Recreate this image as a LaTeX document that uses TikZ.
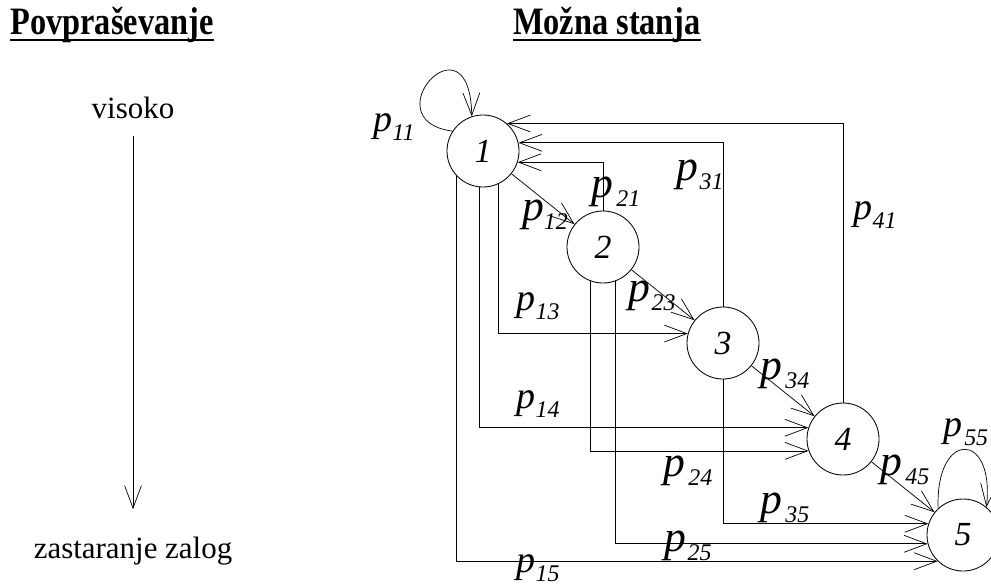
\documentclass[tikz,border=0pt]{standalone}
\usepackage{fontspec}
\setmainfont{Liberation Serif}
\usepackage{graphicx}
\usepackage{xcolor}
\usepackage{tikz}
\usetikzlibrary{arrows.meta,calc,positioning}

% label p_ij with optional gap before the index
\newcommand{\prob}[2][0pt]{\textit{p}\kern#1\raisebox{-6pt}{\fontsize{17}{17}\selectfont\textit{#2}}}
% taller heading text
\newcommand{\tallhead}[1]{\scalebox{1}[1.2]{#1}}

\begin{document}
\begin{tikzpicture}[x=0.025cm,y=-0.025cm,
  state/.style={circle,draw,line width=0.6pt,minimum size=1.8cm,inner sep=0pt,
    font=\fontsize{24}{24}\selectfont\itshape},
  lbl/.style={font=\fontsize{27}{27}\selectfont,inner sep=0pt},
  lblb/.style={font=\fontsize{31}{31}\selectfont,inner sep=0pt},
  txt/.style={font=\fontsize{22}{22}\selectfont,anchor=base},
  head/.style={font=\fontsize{23}{23}\selectfont\bfseries,anchor=base,inner sep=0pt},
  arr/.style={-{Straight Barb[length=16pt,width=12pt]},line width=0.5pt}]
  \useasboundingbox (0,0) rectangle (991,587);

  % Headings
  \node[head] (hdem) at (112,34) {\tallhead{Povpraševanje}};
  \node[head] (hsta) at (607,34) {\tallhead{Možna stanja}};
  \draw[line width=2pt] ($(hdem.base west)+(0,6)$) -- ($(hdem.base east)+(0,6)$);
  \draw[line width=2pt] ($(hsta.base west)+(0,6)$) -- ($(hsta.base east)+(0,6)$);

  % Demand axis
  \node[txt] (vis) at (133,118) {visoko};
  \node[txt] (zal) at (133,558) {zastaranje zalog};
  \draw[arr,shorten <=9pt,shorten >=16pt] (vis) -- (zal);

  % States
  \node[state] (s1) at (483,151) {1};
  \node[state] (s2) at (603,247) {2};
  \node[state] (s3) at (723,343) {3};
  \node[state] (s4) at (843,439) {4};
  \node[state] (s5) at (963,535) {5};

  % Self loops
  \draw[arr] (s1.147) .. controls (370,120) and (470,10) .. (s1.108);
  \draw[arr] (s5.133) .. controls (935,430) and (995,430) .. (s5.50);

  % Next state
  \foreach \a/\b in {1/2,2/3,3/4,4/5}
    \draw[arr] (s\a) -- (s\b);

  % Back to state 1
  \draw[arr] (s2.north) |- (s1.-18);
  \draw[arr] (s3.north) |- (s1.13);
  \draw[arr] (s4.north) |- (s1.49);

  % Skipping states
  \draw[arr] (s1.295) |- (s3.165);
  \draw[arr] (s1.264) |- (s4.162);
  \draw[arr] (s1.224) |- (s5.226);
  \draw[arr] (s2.249) |- (s4.199);
  \draw[arr] (s2.289) |- (s5.194);
  \draw[arr] (s3.south) |- (s5.162);

  % Transition probabilities
  \node[lbl] (l11) at (394,127) {\prob{11}};
  \node[lblb] (l12) at (545,215) {\prob{12}};
  \node[lblb] (l21) at (616,192) {\prob[2pt]{21}};
  \node[lblb] (l31) at (700,175) {\prob[1pt]{31}};
  \node[lbl] (l41) at (875,215) {\prob{41}};
  \node[lbl] (l13) at (538,306) {\prob{13}};
  \node[lblb] (l23) at (652,296) {\prob[1pt]{23}};
  \node[lblb] (l34) at (785,374) {\prob[2pt]{34}};
  \node[lbl] (l14) at (538,404) {\prob{14}};
  \node[lblb] (l24) at (688,471) {\prob[2pt]{24}};
  \node[lblb] (l45) at (905,470) {\prob[2pt]{45}};
  \node[lbl] (l55) at (966,432) {\prob[1pt]{55}};
  \node[lblb] (l35) at (785,508) {\prob[2pt]{35}};
  \node[lblb] (l25) at (688,546) {\prob[1pt]{25}};
  \node[lbl] (l15) at (538,568) {\prob{15}};
\end{tikzpicture}
\end{document}
